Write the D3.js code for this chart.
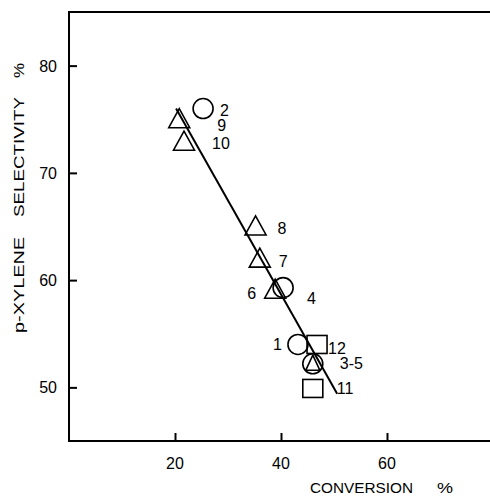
<!DOCTYPE html>
<html>
<head>
<meta charset="utf-8">
<script src="https://cdn.jsdelivr.net/npm/d3@7"></script>
<style>
  body { margin: 0; background: #fff; }
  text { font-family: "Liberation Sans", Arial, sans-serif; fill: #000; }
</style>
</head>
<body>
<script>
var svgWidth = 490;
var svgHeight = 496;

// data
var circleLabels = ["2", "4", "1", "3-5"];
var circleX = [25.3, 40.4, 43.2, 46.0];
var circleY = [76.0, 59.3, 54.0, 52.2];

var triangleLabels = ["9", "10", "8", "7", "6", ""];
var triangleX = [20.8, 21.7, 35.2, 36.0, 38.9, 46.0];
var triangleY = [75.1, 73.0, 65.1, 62.1, 59.2, 52.3];

var squareLabels = ["12", "11"];
var squareX = [46.8, 46.0];
var squareY = [54.0, 49.9];

var fitX = [20.2, 50.6];
var fitY = [76.0, 49.4];

var xTicks = [20, 40, 60];
var yTicks = [50, 60, 70, 80];

// label offsets in px from the marker centre
var labelOffset = {
  "2": [17, 1], "9": [38, 7], "10": [28, 2], "8": [22, 3], "7": [19, 3],
  "6": [-28, 4], "4": [24, 10], "1": [-25, 0], "12": [11, 4], "3-5": [27, -1], "11": [24, 0]
};

var svg = d3.select("body").append("svg")
  .attr("width", svgWidth)
  .attr("height", svgHeight);

var xScale = d3.scaleLinear().domain([0, 80]).range([69, 493]);
var yScale = d3.scaleLinear().domain([45, 85]).range([441, 12]);

// frame: top, left, bottom
svg.append("path")
  .attr("d", "M" + xScale(80) + "," + yScale(85) + "H" + xScale(0) + "V" + yScale(45) + "H" + xScale(80))
  .attr("fill", "none")
  .attr("stroke", "#000")
  .attr("stroke-width", 2);

// inward ticks
svg.append("g")
  .attr("transform", "translate(0," + yScale(45) + ")")
  .call(d3.axisTop(xScale).tickValues(xTicks).tickSize(8).tickFormat(""))
  .call(g => g.select(".domain").remove())
  .selectAll("line").attr("stroke-width", 2);

svg.append("g")
  .attr("transform", "translate(" + xScale(0) + ",0)")
  .call(d3.axisRight(yScale).tickValues(yTicks).tickSize(8).tickFormat(""))
  .call(g => g.select(".domain").remove())
  .selectAll("line").attr("stroke-width", 2);

svg.selectAll(".xlab").data(xTicks).enter().append("text")
  .attr("x", d => xScale(d))
  .attr("y", 469)
  .attr("text-anchor", "middle")
  .attr("font-size", 16)
  .text(d => d);

svg.selectAll(".ylab").data(yTicks).enter().append("text")
  .attr("x", 57)
  .attr("y", d => yScale(d) + 6)
  .attr("text-anchor", "end")
  .attr("font-size", 16)
  .text(d => d);

// axis titles
svg.append("text").attr("x", 310).attr("y", 493)
  .attr("font-size", 14).attr("textLength", 103).attr("lengthAdjust", "spacingAndGlyphs")
  .text("CONVERSION");
svg.append("text").attr("x", 437).attr("y", 493)
  .attr("font-size", 14).attr("textLength", 16).attr("lengthAdjust", "spacingAndGlyphs")
  .text("%");

var yTitle = svg.append("g").attr("transform", "translate(24,0) rotate(-90)");
yTitle.append("text").attr("x", -333).attr("y", 0)
  .attr("font-size", 15).attr("textLength", 96).attr("lengthAdjust", "spacingAndGlyphs")
  .text("p-XYLENE");
yTitle.append("text").attr("x", -217).attr("y", 0)
  .attr("font-size", 15).attr("textLength", 120).attr("lengthAdjust", "spacingAndGlyphs")
  .text("SELECTIVITY");
yTitle.append("text").attr("x", -78).attr("y", 0)
  .attr("font-size", 15).attr("textLength", 15).attr("lengthAdjust", "spacingAndGlyphs")
  .text("%");

// fitted line
svg.append("line")
  .attr("x1", xScale(fitX[0])).attr("y1", yScale(fitY[0]))
  .attr("x2", xScale(fitX[1])).attr("y2", yScale(fitY[1]))
  .attr("stroke", "#000")
  .attr("stroke-width", 2);

var circles = circleLabels.map((l, i) => ({ label: l, x: circleX[i], y: circleY[i] }));
var triangles = triangleLabels.map((l, i) => ({ label: l, x: triangleX[i], y: triangleY[i] }));
var squares = squareLabels.map((l, i) => ({ label: l, x: squareX[i], y: squareY[i] }));

var markStyle = g => g.attr("fill", "none").attr("stroke", "#000").attr("stroke-width", 1.6);

svg.selectAll(".circ").data(circles).enter().append("circle")
  .attr("cx", d => xScale(d.x))
  .attr("cy", d => yScale(d.y))
  .attr("r", 10)
  .call(markStyle);

svg.selectAll(".tri").data(triangles).enter().append("path")
  .attr("d", (d, i) => {
    var cx = xScale(d.x), cy = yScale(d.y);
    var w = i === 5 ? 14 : 21, h = i === 5 ? 15 : 19;
    return "M" + cx + "," + (cy - h / 2) + "L" + (cx + w / 2) + "," + (cy + h / 2) + "L" + (cx - w / 2) + "," + (cy + h / 2) + "Z";
  })
  .call(markStyle);

svg.selectAll(".sq").data(squares).enter().append("rect")
  .attr("x", d => xScale(d.x) - 10)
  .attr("y", d => yScale(d.y) - 9)
  .attr("width", 20)
  .attr("height", 18)
  .call(markStyle);

var labelled = circles.concat(triangles, squares).filter(d => d.label !== "");
svg.selectAll(".ptlab").data(labelled).enter().append("text")
  .attr("x", d => xScale(d.x) + labelOffset[d.label][0])
  .attr("y", d => yScale(d.y) + labelOffset[d.label][1] + 6)
  .attr("font-size", 16)
  .text(d => d.label);
</script>
</body>
</html>
